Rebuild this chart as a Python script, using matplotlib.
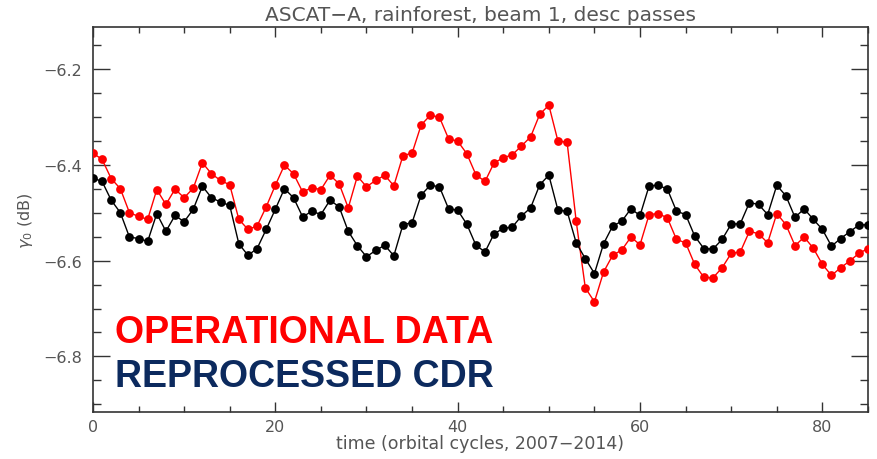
import numpy as np
import matplotlib
matplotlib.use("Agg")
import matplotlib.pyplot as plt
from matplotlib.ticker import MultipleLocator

# orbital cycle index
cycles = np.arange(86)

# operational data, gamma0 in dB
operational = [
    -6.376, -6.389, -6.429, -6.450, -6.500, -6.508, -6.514, -6.452, -6.483, -6.451,
    -6.469, -6.449, -6.396, -6.419, -6.433, -6.442, -6.514, -6.535, -6.528, -6.488,
    -6.443, -6.401, -6.419, -6.457, -6.448, -6.452, -6.422, -6.440, -6.490, -6.424,
    -6.446, -6.433, -6.422, -6.444, -6.381, -6.376, -6.317, -6.297, -6.301, -6.346,
    -6.351, -6.377, -6.421, -6.435, -6.396, -6.386, -6.379, -6.361, -6.342, -6.295,
    -6.276, -6.351, -6.353, -6.518, -6.657, -6.686, -6.624, -6.589, -6.578, -6.551,
    -6.567, -6.504, -6.502, -6.511, -6.556, -6.563, -6.608, -6.635, -6.636, -6.615,
    -6.585, -6.582, -6.539, -6.544, -6.563, -6.502, -6.525, -6.569, -6.551, -6.574,
    -6.608, -6.631, -6.615, -6.601, -6.585, -6.575,
]

# reprocessed climate data record
reprocessed = [
    -6.428, -6.435, -6.474, -6.500, -6.551, -6.554, -6.560, -6.502, -6.539, -6.506,
    -6.519, -6.493, -6.445, -6.469, -6.478, -6.485, -6.565, -6.589, -6.575, -6.535,
    -6.493, -6.450, -6.469, -6.509, -6.497, -6.504, -6.474, -6.488, -6.539, -6.569,
    -6.592, -6.579, -6.568, -6.590, -6.525, -6.521, -6.463, -6.443, -6.446, -6.492,
    -6.495, -6.524, -6.568, -6.582, -6.544, -6.533, -6.530, -6.507, -6.490, -6.442,
    -6.422, -6.495, -6.497, -6.563, -6.596, -6.627, -6.565, -6.528, -6.518, -6.492,
    -6.506, -6.444, -6.443, -6.451, -6.497, -6.504, -6.549, -6.575, -6.576, -6.556,
    -6.524, -6.523, -6.479, -6.483, -6.504, -6.443, -6.465, -6.510, -6.492, -6.514,
    -6.535, -6.570, -6.554, -6.540, -6.526, -6.525,
]

fig = plt.figure(figsize=(8.77, 4.6), dpi=100)
ax = fig.add_axes([0.106, 0.102, 0.8837, 0.837])

ax.plot(cycles, operational, color="#ff0000", lw=1.0, marker="o",
        markersize=6.3, markeredgewidth=0, zorder=3)
ax.plot(cycles, reprocessed, color="black", lw=1.0, marker="o",
        markersize=6.3, markeredgewidth=0, zorder=4)

ax.set_xlim(0, 85)
ax.set_ylim(-6.916, -6.113)

ax.xaxis.set_major_locator(MultipleLocator(20))
ax.xaxis.set_minor_locator(MultipleLocator(5))
ax.yaxis.set_major_locator(MultipleLocator(0.2))
ax.yaxis.set_minor_locator(MultipleLocator(0.05))

grey = "#555555"
ax.tick_params(axis="x", which="major", direction="in", length=7, width=1,
               top=True, colors="#333333", labelcolor=grey, labelsize=11.5, pad=5)
ax.tick_params(axis="x", which="minor", direction="in", length=4, width=1,
               top=True, colors="#333333")
ax.tick_params(axis="y", which="major", direction="in", length=12, width=1,
               right=True, colors="#333333", labelcolor=grey, labelsize=11.5, pad=8)
ax.tick_params(axis="y", which="minor", direction="in", length=6, width=1,
               right=True, colors="#333333")
ax.yaxis.set_major_formatter(plt.FuncFormatter(lambda v, p: f"{v:.1f}".replace("-", "\u2212")))

for s in ax.spines.values():
    s.set_color("#333333")
    s.set_linewidth(1.2)

ax.set_title("ASCAT\u2212A, rainforest, beam 1, desc passes", fontsize=14.5,
             color=grey, pad=5)
ax.set_xlabel("time (orbital cycles, 2007\u22122014)", fontsize=12.5, color=grey,
              labelpad=0)
ax.set_ylabel(r"$\gamma_0$ (dB)", fontsize=11.5, color=grey, labelpad=6)

ax.text(0.029, 0.182, "OPERATIONAL DATA", transform=ax.transAxes,
        fontsize=27, fontweight="bold", color="#ff0000",
        family="Liberation Sans", va="baseline")
ax.text(0.029, 0.067, "REPROCESSED CDR", transform=ax.transAxes,
        fontsize=27, fontweight="bold", color="#0c2a5e",
        family="Liberation Sans", va="baseline")

fig.savefig("out.png", dpi=100)
